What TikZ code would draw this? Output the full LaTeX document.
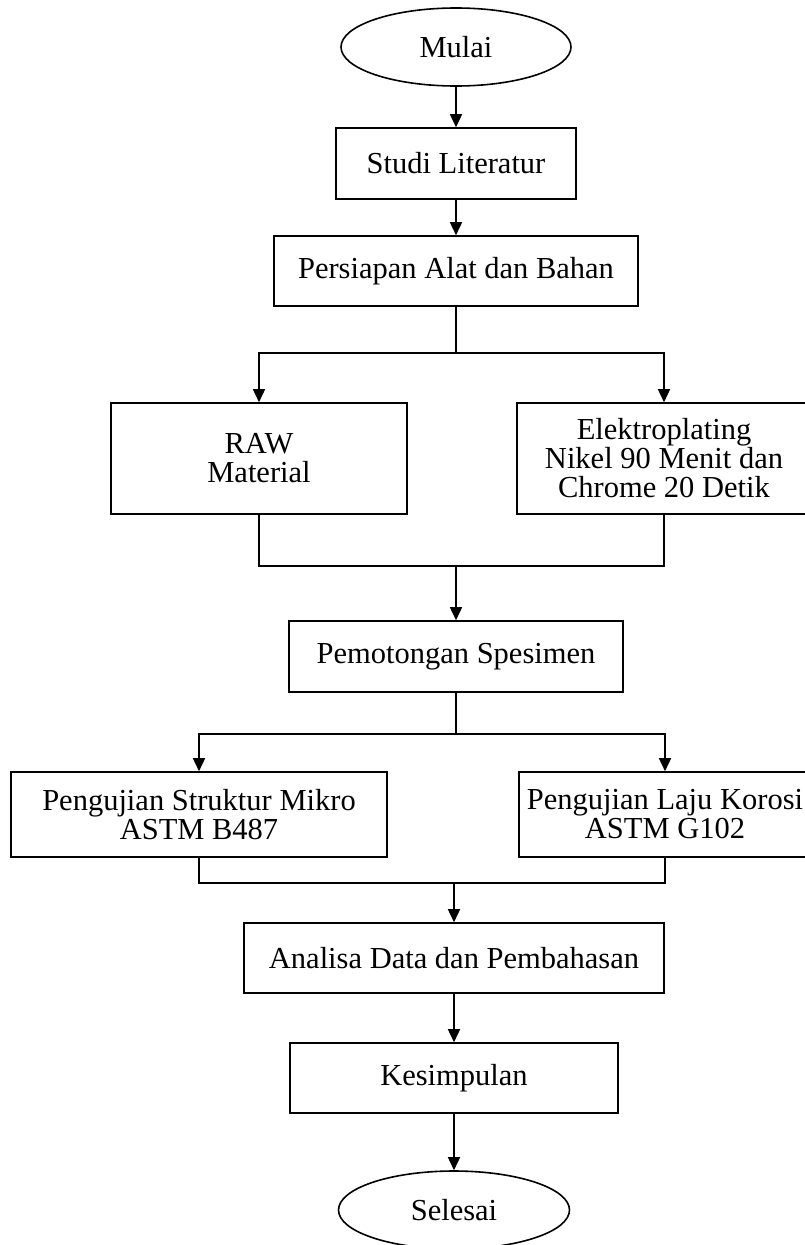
\documentclass[tikz,border=0pt]{standalone}
\usepackage{fontspec}
\setmainfont{Liberation Serif}
\usetikzlibrary{arrows.meta,shapes.geometric}
\begin{document}
\begin{tikzpicture}[x=1pt,y=-1pt,
  line width=1.6pt,
  every node/.style={font=\fontsize{30.5}{29}\selectfont, align=center, inner sep=0pt},
  box/.style={draw, rectangle, minimum width=#1, minimum height=71pt},
  term/.style={draw, ellipse, minimum width=230pt, minimum height=78pt},
  arr/.style={-{Triangle[length=13pt,width=12pt]}}
]
\useasboundingbox (0,0) rectangle (804,1245);
\node[term] (mulai) at (456,47) {Mulai};
\node[box=240pt] (studi) at (456,163.5) {Studi Literatur};
\node[box=364pt, minimum height=70pt] (persiapan) at (456,271) {Persiapan Alat dan Bahan};
\node[box=296pt, minimum height=111pt] (raw) at (259,458.5) {RAW\\Material};
\node[box=294pt, minimum height=111pt] (elektro) at (664,458.5) {Elektroplating\\Nikel 90 Menit dan\\Chrome 20 Detik};
\node[box=334pt] (potong) at (456,656.5) {Pemotongan Spesimen};
\node[box=376pt, minimum height=85pt] (mikro) at (199,814.5) {Pengujian Struktur Mikro\\ASTM B487};
\node[box=292pt, minimum height=85pt] (korosi) at (665,814.5) {Pengujian Laju Korosi\\ASTM G102};
\node[box=420pt, minimum height=70pt] (analisa) at (454,958) {Analisa Data dan Pembahasan};
\node[box=328pt, minimum height=70pt] (kesimpulan) at (454,1078) {Kesimpulan};
\node[term, minimum width=231pt] (selesai) at (454,1210) {Selesai};

\coordinate (s1) at (456,353);
\coordinate (j1) at (456,566);
\coordinate (s2) at (456,734);
\coordinate (j2) at (454,883);

\draw[arr] (mulai) -- (studi);
\draw[arr] (studi) -- (persiapan);
\draw (persiapan.south) -- (s1);
\draw[arr] (s1) -| (raw.north);
\draw[arr] (s1) -| (elektro.north);
\draw (raw.south) |- (j1);
\draw (elektro.south) |- (j1);
\draw[arr] (j1) -- (potong.north);
\draw (potong.south) -- (s2);
\draw[arr] (s2) -| (mikro.north);
\draw[arr] (s2) -| (korosi.north);
\draw (mikro.south) |- (j2);
\draw (korosi.south) |- (j2);
\draw[arr] (j2) -- (analisa.north);
\draw[arr] (analisa) -- (kesimpulan);
\draw[arr] (kesimpulan) -- (selesai);
\end{tikzpicture}
\end{document}
